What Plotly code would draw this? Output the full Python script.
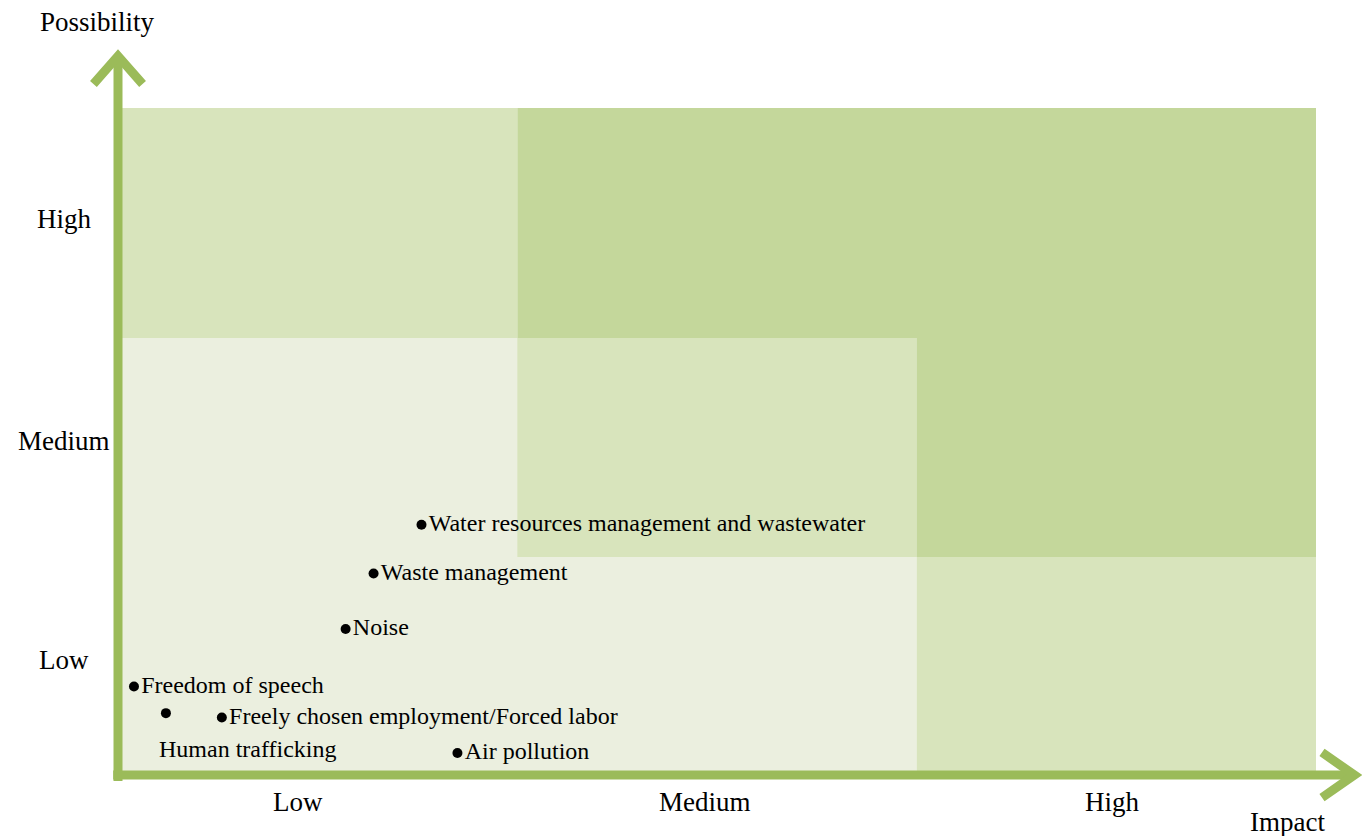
import plotly.graph_objects as go

# ---- data ----
risk_names = [
    "Water resources management and wastewater",
    "Waste management",
    "Noise",
    "Freedom of speech",
    "Human trafficking",
    "Freely chosen employment/Forced labor",
    "Air pollution",
]
impact = [0.76, 0.64, 0.57, 0.04, 0.12, 0.26, 0.85]
possibility = [1.12, 0.90, 0.65, 0.39, 0.27, 0.25, 0.09]
show_label_inline = [True, True, True, True, False, True, True]

level_labels = ["Low", "Medium", "High"]
x_level_pos = [0.45, 1.47, 2.49]
y_level_pos = [0.51, 1.50, 2.50]

FONT = "Liberation Serif, Times New Roman, serif"
GREEN = "#9BBB59"
DARK = "#C4D79B"
MID = "#D8E4BC"
PALE = "#EBEFDF"
LABEL_SIZE = 24
AXIS_SIZE = 27

fig = go.Figure()

# background zones (data coordinates)
zones = [
    (0, 2, 0, 1.962, PALE),
    (0, 1, 1.962, 3, MID),
    (1, 2, 0.974, 1.962, MID),
    (2, 3, 0, 0.974, MID),
    (1, 3, 1.962, 3, DARK),
    (2, 3, 0.974, 1.962, DARK),
]
for x0, x1, y0, y1, c in zones:
    fig.add_shape(type="rect", xref="x", yref="y", x0=x0, x1=x1, y0=y0, y1=y1,
                  fillcolor=c, line_width=0, layer="below")

# points with inline labels
xi = [x for x, s in zip(impact, show_label_inline) if s]
yi = [y for y, s in zip(possibility, show_label_inline) if s]
ti = [t for t, s in zip(risk_names, show_label_inline) if s]
fig.add_trace(go.Scatter(
    x=xi, y=yi, text=ti, mode="markers+text", textposition="middle right",
    marker=dict(size=10, color="black"), cliponaxis=False,
    textfont=dict(family=FONT, size=LABEL_SIZE, color="black"), hoverinfo="text",
))
# point with label below
for x, y, t, s in zip(impact, possibility, risk_names, show_label_inline):
    if not s:
        fig.add_trace(go.Scatter(x=[x], y=[y], mode="markers",
                                 marker=dict(size=10, color="black"), hoverinfo="skip"))
        fig.add_annotation(x=x, y=y, xref="x", yref="y", text=t, showarrow=False,
                           xanchor="left", yanchor="middle", xshift=-9, yshift=-36,
                           font=dict(family=FONT, size=LABEL_SIZE, color="black"))

# axis arrows (paper coordinates)
fig.add_shape(type="line", xref="paper", yref="paper", x0=0, x1=0, y0=-0.012, y1=1.076,
              line=dict(color=GREEN, width=9))
fig.add_shape(type="path", xref="paper", yref="paper",
              path="M -0.0205,1.036 L 0,1.078 L 0.0205,1.036",
              line=dict(color=GREEN, width=9))
fig.add_shape(type="line", xref="paper", yref="paper", x0=-0.004, x1=1.03, y0=-0.003, y1=-0.003,
              line=dict(color=GREEN, width=9))
fig.add_shape(type="path", xref="paper", yref="paper",
              path="M 1.005,0.031 L 1.032,-0.003 L 1.005,-0.037",
              line=dict(color=GREEN, width=9))

# axis titles
fig.add_annotation(x=-0.0167, y=1.129, xref="paper", yref="paper", text="Possibility",
                   showarrow=False, xanchor="center", yanchor="middle",
                   font=dict(family=FONT, size=AXIS_SIZE, color="black"))
fig.add_annotation(x=0.976, y=-0.074, xref="paper", yref="paper", text="Impact",
                   showarrow=False, xanchor="center", yanchor="middle",
                   font=dict(family=FONT, size=AXIS_SIZE, color="black"))

# level labels
for lab, xp in zip(level_labels, x_level_pos):
    fig.add_annotation(x=xp, y=-0.043, xref="x", yref="paper", text=lab, showarrow=False,
                       xanchor="center", yanchor="middle",
                       font=dict(family=FONT, size=AXIS_SIZE, color="black"))
for lab, yp in zip(level_labels, y_level_pos):
    fig.add_annotation(x=-0.045, y=yp, xref="paper", yref="y", text=lab, showarrow=False,
                       xanchor="center", yanchor="middle",
                       font=dict(family=FONT, size=AXIS_SIZE, color="black"))

fig.update_layout(
    width=1362, height=828,
    margin=dict(l=110, r=54, t=100, b=63),
    paper_bgcolor="white", plot_bgcolor="white",
    showlegend=False,
    xaxis=dict(range=[0, 3], visible=False, fixedrange=True),
    yaxis=dict(range=[0, 3], visible=False, fixedrange=True),
)

fig.write_html("out.html")
